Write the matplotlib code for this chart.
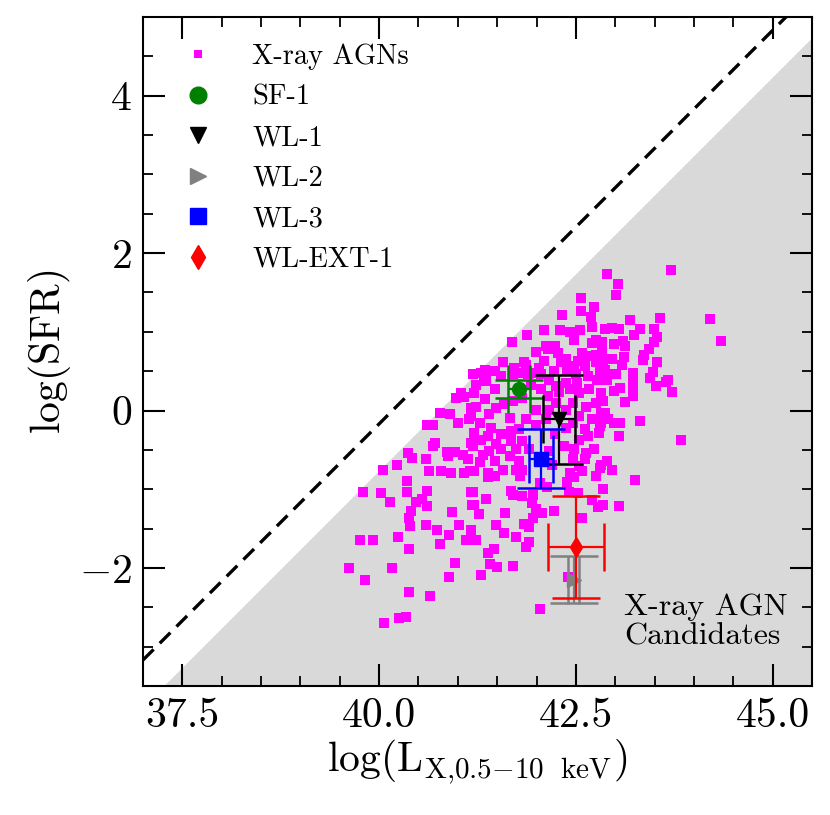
import matplotlib
matplotlib.use("Agg")
import matplotlib.pyplot as plt
from matplotlib.lines import Line2D
import numpy as np

plt.rcParams['font.family'] = 'serif'
plt.rcParams['font.serif'] = ['cmr10']
plt.rcParams['mathtext.fontset'] = 'cm'
plt.rcParams['axes.formatter.use_mathtext'] = True

# X-ray AGN sample: log Lx (0.5-10 keV) and log SFR
agn_logLx = [
    42.89, 42.56, 42.56, 42.73, 42.69, 42.33, 42.10, 42.30, 42.42, 42.55, 42.70, 42.87,
    41.88, 42.47, 42.75, 41.69, 41.99, 42.15, 42.27, 41.58, 41.84, 42.09, 42.37, 42.53,
    42.66, 42.76, 42.48, 42.62, 42.75, 42.81, 41.34, 41.47, 41.71, 41.79, 42.03, 42.22,
    42.39, 41.33, 42.06,
    43.04, 43.01, 43.71, 44.21, 44.35, 43.57, 43.19, 42.96, 43.05, 43.32, 43.49, 43.24,
    43.53, 42.83, 42.98, 43.10, 43.12, 43.49, 43.43, 43.37, 42.83, 43.11, 43.53, 43.35,
    42.96, 42.84, 43.08, 42.87, 43.01, 43.23, 43.48, 43.44, 43.67,
    43.65, 43.52, 43.72, 43.23, 43.22, 43.22, 43.13, 43.06, 42.98, 42.89, 42.99, 42.84,
    43.32, 43.83, 43.05, 42.87, 42.91, 43.06, 42.98, 42.81, 42.89, 42.96, 42.81, 43.25,
    41.04, 40.98, 41.08, 40.77, 40.90, 41.00, 41.14, 41.17, 40.61, 40.68, 40.71, 40.69,
    40.37, 40.42, 40.59, 40.86, 40.97, 40.87, 41.06, 41.13, 41.17, 40.23, 40.05, 40.64,
    40.79, 40.91, 41.08, 41.16, 40.36, 39.80, 40.03, 40.35, 40.61, 40.14, 40.54, 41.17,
    40.47, 40.61, 40.41, 40.38, 40.39, 40.60, 40.73, 40.92, 41.01, 41.18, 41.17, 40.89,
    40.77, 41.11, 40.24, 39.76, 39.92, 40.38, 39.62, 40.16, 39.82, 40.96, 40.89, 40.38,
    40.65, 40.34, 40.25, 40.06,
    41.38, 41.47, 41.79, 41.19, 41.36, 41.68, 41.70, 41.81, 41.95, 42.04, 42.13, 42.39,
    42.47, 42.41, 42.53, 42.70, 42.76, 42.84, 42.78, 42.84, 41.20, 41.27, 41.60, 41.94,
    41.99, 42.07, 41.96, 42.22, 42.58, 41.48, 41.84, 41.91, 41.17, 41.59, 41.74, 41.23,
    41.90, 41.86, 41.46, 41.38, 41.41, 41.50, 41.70, 41.29, 42.40, 42.05, 43.05,
    41.30, 41.36, 41.21, 41.47, 41.55, 41.99, 42.16, 42.37, 42.50, 42.65, 42.77, 42.67,
    42.54, 42.42, 42.82, 42.75, 42.63, 42.82, 42.54, 42.71, 42.80, 42.61, 42.37, 42.54,
    42.35, 42.48, 42.63, 42.73, 42.82, 42.61, 42.46, 42.58, 42.42, 42.12, 41.99, 41.99,
    41.86, 41.78, 41.66, 41.59, 41.49, 41.40, 41.23, 41.17, 41.28, 41.42, 41.55, 41.68,
    41.82, 41.91, 41.30, 41.19, 41.40, 41.55, 41.66, 41.47, 41.28, 41.78, 41.82, 41.57,
    41.38, 41.21, 42.16, 42.23, 41.82, 41.70, 42.14, 42.25, 42.46,
    41.19, 41.23, 41.34, 41.70, 41.89, 41.93, 42.06, 42.29, 42.37, 42.16, 41.21, 41.38,
    41.49, 41.74, 41.32, 41.74, 41.68, 42.20, 42.25, 42.52, 42.46, 42.65, 42.54, 42.82,
    41.86, 42.12, 42.23, 42.31, 42.42, 42.58, 42.71, 41.40,
]
agn_logSFR = [
    1.73, 1.43, 1.27, 1.32, 1.19, 1.21, 1.02, 1.02, 1.00, 1.02, 1.06, 1.03,
    0.96, 0.89, 0.89, 0.87, 0.74, 0.78, 0.73, 0.62, 0.61, 0.63, 0.65, 0.63,
    0.69, 0.71, 0.54, 0.56, 0.61, 0.52, 0.52, 0.50, 0.54, 0.48, 0.54, 0.50,
    0.50, 0.44, 0.46,
    1.61, 1.47, 1.78, 1.16, 0.88, 1.18, 1.15, 1.05, 1.04, 1.04, 1.04, 0.96,
    0.94, 0.87, 0.84, 0.88, 0.82, 0.87, 0.78, 0.71, 0.75, 0.68, 0.62, 0.64,
    0.65, 0.63, 0.58, 0.52, 0.46, 0.48, 0.49, 0.41, 0.39,
    0.36, 0.31, 0.24, 0.35, 0.26, 0.18, 0.11, 0.29, 0.25, 0.39, 0.46, 0.12,
    -0.13, -0.37, -0.33, -0.03, -0.11, -0.16, -0.16, -0.20, -0.64, -0.75, -0.73, -0.88,
    0.22, 0.16, 0.17, -0.03, -0.04, -0.16, -0.11, 0.03, -0.18, -0.19, -0.41, -0.45,
    -0.54, -0.60, -0.62, -0.53, -0.53, -0.58, -0.57, -0.62, -0.41, -0.69, -0.76, -0.77,
    -0.77, -0.80, -0.80, -0.77, -0.90, -1.04, -1.05, -1.04, -1.02, -1.16, -1.13, -1.04,
    -1.16, -1.21, -1.28, -1.36, -1.47, -1.45, -1.52, -1.29, -1.46, -1.20, -1.52, -1.58,
    -1.70, -1.65, -1.61, -1.65, -1.65, -1.76, -2.00, -2.00, -2.15, -1.94, -2.12, -2.31,
    -2.36, -2.62, -2.64, -2.70,
    -0.85, -0.83, -0.83, -1.03, -1.12, -1.02, -1.07, -1.09, -1.07, -0.92, -0.97, -0.91,
    -0.85, -1.04, -1.05, -1.14, -0.83, -1.00, -1.23, -1.20, -1.20, -1.32, -1.30, -1.17,
    -1.25, -1.30, -1.36, -1.28, -1.36, -1.46, -1.44, -1.48, -1.52, -1.56, -1.61, -1.65,
    -1.67, -1.73, -1.76, -1.81, -1.95, -1.99, -1.97, -2.09, -2.12, -2.52, -1.21,
    0.48, 0.37, 0.22, 0.27, 0.44, 0.48, 0.39, 0.35, 0.46, 0.44, 0.39, 0.27,
    0.22, 0.27, 0.22, 0.10, 0.05, -0.03, -0.07, -0.11, -0.28, -0.24, -0.22, -0.37,
    -0.45, -0.49, -0.54, -0.49, -0.69, -0.62, -0.62, -0.77, -0.79, -0.11, 0.01, -0.18,
    -0.11, -0.24, -0.09, 0.08, 0.03, -0.05, 0.05, -0.07, -0.16, -0.22, -0.30, -0.39,
    -0.39, -0.49, -0.37, -0.45, -0.52, -0.49, -0.58, -0.64, -0.66, -0.64, -0.75, -0.75,
    -0.79, -0.77, -0.52, -0.30, 0.16, 0.12, 0.18, 0.10, 0.10,
    0.46, 0.33, 0.14, 0.46, 0.46, 0.33, 0.27, 0.24, 0.01, 0.01, -0.28, -0.33,
    -0.43, -0.49, -0.56, -0.75, -0.26, -0.69, 0.31, 0.35, -0.16, -0.33, -0.71, -0.16,
    0.58, 0.82, 0.82, 0.61, 0.56, 0.73, 0.86, 0.50,
]

# Individual sources
src_names = ['SF-1', 'WL-1', 'WL-2', 'WL-3', 'WL-EXT-1']
src_logLx = [41.78, 42.29, 42.47, 42.06, 42.50]
src_logSFR = [0.27, -0.11, -2.15, -0.61, -1.735]
src_xerr = [0.14, 0.205, 0.07, 0.155, 0.36]
src_yerr = [0.115, 0.565, 0.30, 0.37, 0.65]
src_markers = ['o', 'v', '>', 's', 'd']
src_colors = ['green', 'black', 'grey', 'blue', 'red']

# Relations
dash_offset = 40.17   # log SFR = log Lx - 40.17
shade_offset = 40.76  # AGN candidate boundary
xlim = (37.0, 45.5)
ylim = (-3.5, 5.0)

fig = plt.figure(figsize=(8.3, 8.15), dpi=100)
ax = fig.add_axes([0.1723, 0.1583, 0.806, 0.8209])

xx = np.array(xlim)
ax.fill_between(xx, xx - shade_offset, ylim[0] - 1, color='#d9d9d9', lw=0, zorder=0)
ax.plot(xx, xx - dash_offset, color='black', lw=2.4, ls=(0, (4.5, 2.6)), zorder=1)

ax.scatter(agn_logLx, agn_logSFR, marker='s', s=44, color='magenta', linewidths=0, zorder=2)

for i in [0, 3, 1, 2, 4]:
    ax.errorbar(src_logLx[i], src_logSFR[i], xerr=src_xerr[i], yerr=src_yerr[i],
                fmt=src_markers[i], color=src_colors[i], ms=10, capsize=17,
                capthick=1.8, elinewidth=1.6, zorder=3 + i * 0.1)

ax.set_xlim(*xlim)
ax.set_ylim(*ylim)
ax.set_xticks([37.5, 40.0, 42.5, 45.0])
ax.set_xticklabels(['37.5', '40.0', '42.5', '45.0'])
ax.set_yticks([-2, 0, 2, 4])
ax.xaxis.set_minor_locator(matplotlib.ticker.MultipleLocator(0.5))
ax.yaxis.set_minor_locator(matplotlib.ticker.MultipleLocator(0.5))
ax.tick_params(which='both', direction='in', top=True, right=True, labelsize=30, pad=8)
ax.tick_params(which='major', length=16, width=1.5)
ax.tick_params(which='minor', length=7, width=1.3)
for s in ax.spines.values():
    s.set_linewidth(1.5)

ax.set_xlabel(r'$\log(\mathrm{L}_{\mathrm{X{,}0.5{-}10\ \ keV}})$', fontsize=30, labelpad=2)
ax.set_ylabel(r'$\log(\mathrm{SFR})$', fontsize=30, labelpad=4)

ax.text(43.11, -2.69, 'X-ray AGN\nCandidates', fontsize=23, ha='left', va='center',
        linespacing=1.1, zorder=5)

handles = [Line2D([], [], marker='s', ls='none', color='magenta', ms=6, mew=0)]
for i in range(len(src_names)):
    handles.append(Line2D([], [], marker=src_markers[i], ls='none', color=src_colors[i], ms=12))
labels = ['X-ray AGNs'] + src_names
ax.legend(handles, labels, loc='upper left', frameon=False, fontsize=20.5,
          labelspacing=0.5, handletextpad=0.9, borderaxespad=0.3,
          bbox_to_anchor=(0.01, 0.99))

fig.savefig('out.png', dpi=100)
